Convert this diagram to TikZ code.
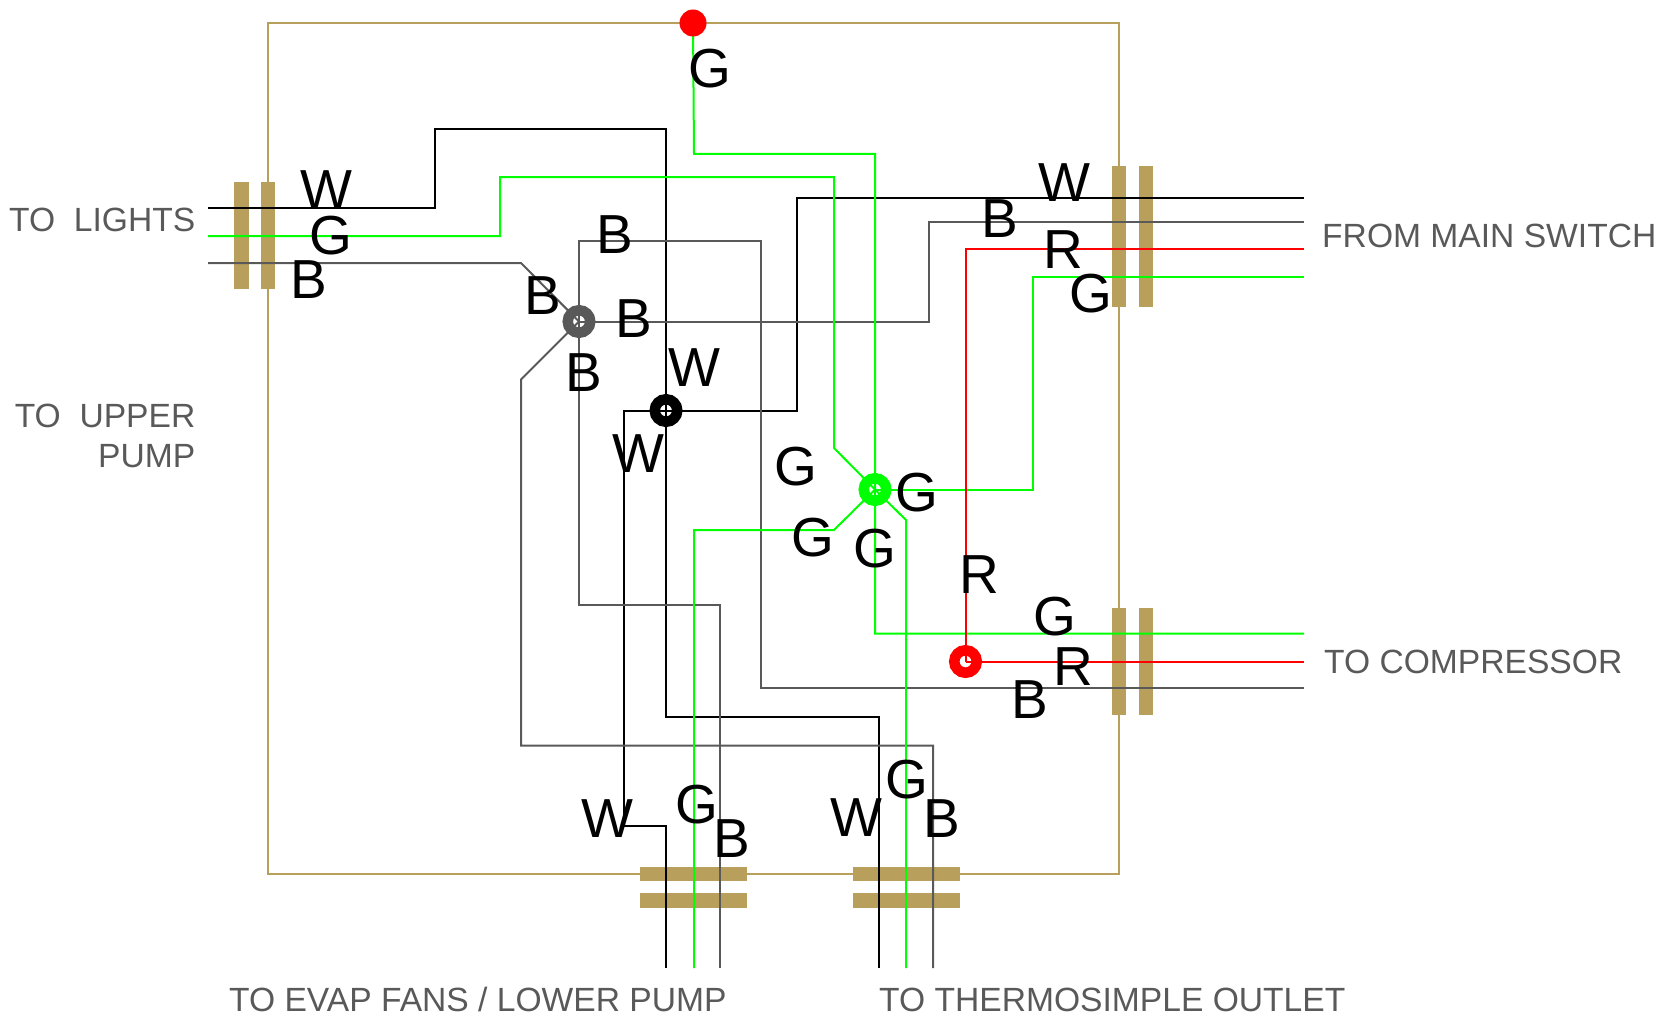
\documentclass[tikz,border=0pt]{standalone}
\usepackage{fontspec}
\setmainfont{Liberation Sans}
\definecolor{frametan}{HTML}{B8A05C}
\definecolor{wiregrey}{HTML}{595959}
\definecolor{wiregreen}{HTML}{00FF00}
\definecolor{wirered}{HTML}{FF0000}
\tikzset{
    wire/.style={line width=2pt, draw=#1},
    stripe/.style={fill=frametan, draw=none},
    hub/.style={circle, draw=#1, line width=10.5pt, minimum size=22.5pt, inner sep=0pt, outer sep=0pt},
    letter/.style={inner sep=0pt, font=\fontsize{55}{60}\selectfont},
    caption/.style={inner sep=0pt, text=wiregrey, font=\fontsize{33.6}{40}\selectfont},
}

\begin{document}
\begin{tikzpicture}[x=1pt, y=-1pt]
        \useasboundingbox (0, 0) rectangle (1676, 1014);
        \coordinate (greyjoin) at (579, 321.5);
        \coordinate (blackjoin) at (666, 410.5);
        \coordinate (greenjoin) at (875, 489.5);
        \coordinate (redjoin) at (965.5, 661.5);
        \coordinate (topjoin) at (693, 23);
        % free ends of the wires
        \coordinate (lightsw) at (208, 208);
        \coordinate (lightsg) at (208, 236);
        \coordinate (lightsb) at (208, 263);
        \coordinate (mainw) at (1304, 198);
        \coordinate (mainb) at (1304, 222);
        \coordinate (mainr) at (1304, 249);
        \coordinate (maing) at (1304, 277);
        \coordinate (compg) at (1304, 633.5);
        \coordinate (compr) at (1304, 661.5);
        \coordinate (compb) at (1304, 688);
        \coordinate (evapw) at (666, 968);
        \coordinate (evapg) at (694, 968);
        \coordinate (evapb) at (720, 968);
        \coordinate (thermow) at (879, 968);
        \coordinate (thermog) at (906, 968);
        \coordinate (thermob) at (933, 968);
        % frame and strain reliefs
        \draw [line width=2pt, draw=frametan] (268, 23) rectangle (1119, 874);
        \path [stripe] (234, 182) rectangle (249, 289);
        \path [stripe] (261, 182) rectangle (275, 289);
        \path [stripe] (1112, 166) rectangle (1126, 307);
        \path [stripe] (1139, 166) rectangle (1153, 307);
        \path [stripe] (1112, 608) rectangle (1126, 715);
        \path [stripe] (1139, 608) rectangle (1153, 715);
        \path [stripe] (640, 867) rectangle (747, 881);
        \path [stripe] (640, 893) rectangle (747, 908);
        \path [stripe] (853, 867) rectangle (960, 881);
        \path [stripe] (853, 893) rectangle (960, 908);
        % black
        \draw [wire=black] (lightsw) -- (435, 208) -- (435, 129) -- (666, 129) -- (666, 716.5) -- (879, 716.5) -- (thermow);
        \draw [wire=black] (blackjoin) -- (797, 410.5) -- (797, 198) -- (mainw);
        \draw [wire=black] (blackjoin) -- (624, 410.5) -- (624, 826) -- (666, 826) -- (evapw);
        % grey
        \draw [wire=wiregrey] (lightsb) -- (521, 263) -- (greyjoin);
        \draw [wire=wiregrey] (greyjoin) -- (579, 241) -- (761, 241) -- (761, 688) -- (compb);
        \draw [wire=wiregrey] (greyjoin) -- (929, 321.5) -- (929, 222) -- (mainb);
        \draw [wire=wiregrey] (greyjoin) -- (579, 604.5) -- (720, 604.5) -- (evapb);
        \draw [wire=wiregrey] (greyjoin) -- (521, 379.5) -- (521, 745.5) -- (933, 745.5) -- (thermob);
        % green
        \draw [wire=wiregreen] (lightsg) -- (500, 236) -- (500, 177) -- (834, 177) -- (834, 448) -- (greenjoin);
        \draw [wire=wiregreen] (topjoin) -- (694, 154) -- (875, 154) -- (875, 633.5) -- (compg);
        \draw [wire=wiregreen] (greenjoin) -- (834, 530) -- (694, 530) -- (evapg);
        \draw [wire=wiregreen] (greenjoin) -- (906, 520) -- (thermog);
        \draw [wire=wiregreen] (greenjoin) -- (1033, 489.5) -- (1033, 277) -- (maing);
        % red
        \draw [wire=wirered] (redjoin) -- (965.5, 249) -- (mainr);
        \draw [wire=wirered] (redjoin) -- (compr);
        % hubs
        \node [hub=wiregrey] (greyhub) at (greyjoin) {};
        \node [hub=black] (blackhub) at (blackjoin) {};
        \node [hub=wiregreen] (greenhub) at (greenjoin) {};
        \node [hub=wirered] (redhub) at (redjoin) {};
        \node [circle, fill=wirered, minimum size=27pt, inner sep=0pt] (tophub) at (topjoin) {};
        % wire letters
        \node [letter] (lblw1) at (326.5, 190) {W};
        \node [letter] (lblg1) at (330.5, 236) {G};
        \node [letter] (lblb1) at (309, 280) {B};
        \node [letter] (lblg2) at (709.5, 69) {G};
        \node [letter] (lblb2) at (614.5, 235) {B};
        \node [letter] (lblb3) at (543, 296) {B};
        \node [letter] (lblb4) at (634, 319) {B};
        \node [letter] (lblb5) at (584, 373) {B};
        \node [letter] (lblw2) at (694, 368) {W};
        \node [letter] (lblw3) at (638, 454) {W};
        \node [letter] (lblg3) at (796, 467) {G};
        \node [letter] (lblg4) at (813, 538) {G};
        \node [letter] (lblg5) at (875, 549) {G};
        \node [letter] (lblg6) at (917, 493) {G};
        \node [letter] (lblr1) at (979, 575) {R};
        \node [letter] (lblw4) at (1064, 183) {W};
        \node [letter] (lblb6) at (1000, 219) {B};
        \node [letter] (lblr2) at (1063.5, 250) {R};
        \node [letter] (lblg7) at (1091, 294) {G};
        \node [letter] (lblg8) at (1055, 617) {G};
        \node [letter] (lblr3) at (1073.5, 667) {R};
        \node [letter] (lblb7) at (1030, 700) {B};
        \node [letter] (lblw5) at (607, 819) {W};
        \node [letter] (lblg9) at (696.5, 805) {G};
        \node [letter] (lblb8) at (732, 839) {B};
        \node [letter] (lblw6) at (856, 818) {W};
        \node [letter] (lblg10) at (907, 780) {G};
        \node [letter] (lblb9) at (941.5, 819) {B};
        % captions
        \node [caption, anchor=east] (lights) at (195.5, 220) {TO\ \ LIGHTS};
        \node [caption, anchor=east] (upper) at (195.5, 416) {TO\ \ UPPER};
        \node [caption, anchor=east] (pump) at (195.5, 456) {PUMP};
        \node [caption, anchor=west] (mainswitch) at (1322, 236) {FROM MAIN SWITCH};
        \node [caption, anchor=west] (compressor) at (1324, 662) {TO COMPRESSOR};
        \node [caption, anchor=base west] (evap) at (229, 1011.5) {TO EVAP FANS / LOWER PUMP};
        \node [caption, anchor=base west] (thermo) at (879, 1011.5) {TO THERMOSIMPLE OUTLET};
    \end{tikzpicture}
\end{document}
